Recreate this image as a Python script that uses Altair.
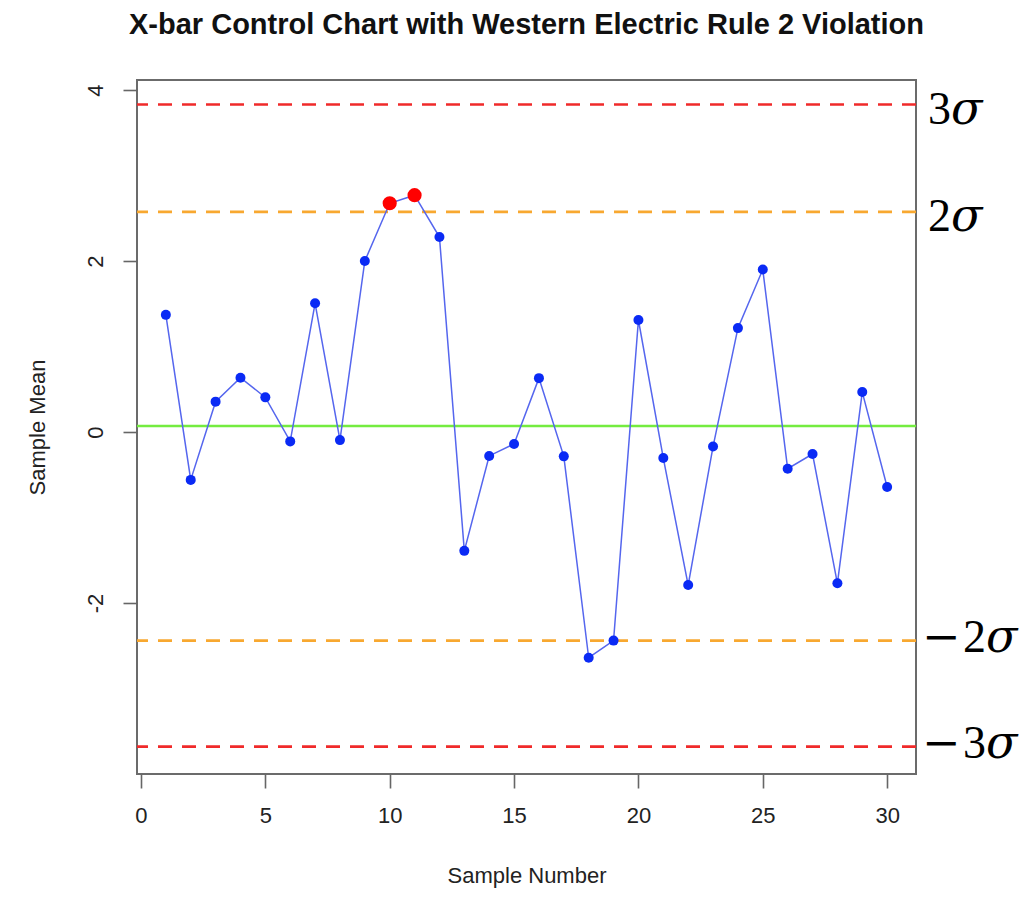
import altair as alt
import pandas as pd

# ---- data ----
sample = list(range(1, 31))
means = [1.37, -0.56, 0.355, 0.635, 0.405, -0.11, 1.505, -0.095, 2.0, 2.675,
         2.77, 2.28, -1.39, -0.28, -0.14, 0.63, -0.285, -2.64, -2.44, 1.31,
         -0.305, -1.79, -0.17, 1.215, 1.90, -0.43, -0.258, -1.77, 0.467, -0.644]
violations = [10, 11]

limit_values = [3.83, 2.575, 0.07, -2.44, -3.68]
limit_kinds = ["3s", "2s", "center", "2s", "3s"]

sigma_values = [3.83, 2.575, -2.44, -3.68]
sigma_signs = ["", "", "−", "−"]
sigma_digits = ["3", "2", "2", "3"]

x_ticks = [0, 5, 10, 15, 20, 25, 30]
y_ticks = [-2, 0, 2, 4]

W, H = 779, 694

df = pd.DataFrame({"Sample": sample, "Mean": means})
df["viol"] = df["Sample"].isin(violations)
lim = pd.DataFrame({"Mean": limit_values, "kind": limit_kinds})
sig = pd.DataFrame({"Mean": sigma_values, "sign": sigma_signs, "digit": sigma_digits})
sig["neg"] = sig["sign"] != ""

xs = alt.Scale(domain=[-0.16, 31.16], nice=False, zero=False)
ys = alt.Scale(domain=[-4.0, 4.117], nice=False, zero=False)

x_enc = alt.X("Sample:Q", scale=xs, title="Sample Number",
              axis=alt.Axis(values=x_ticks, titleX=W / 2, titleY=101,
                            titleBaseline="middle", titleAlign="center",
                            labelPadding=17, labelBaseline="top",
                            labelExpr="'' + datum.value"))
y_enc = alt.Y("Mean:Q", scale=ys, title="Sample Mean",
              axis=alt.Axis(values=y_ticks, labelAngle=270, labelAlign="center",
                            labelBaseline="alphabetic", labelPadding=21,
                            labelExpr="'' + datum.value",
                            titleAngle=270, titleX=-100, titleY=H / 2,
                            titleAlign="center", titleBaseline="middle"))
y_only = alt.Y("Mean:Q", scale=ys, title="Sample Mean")

color_scale = alt.Scale(domain=["3s", "2s", "center"],
                        range=["#f02a2a", "#f8a830", "#74ec40"])

dashed = alt.Chart(lim).transform_filter("datum.kind != 'center'").mark_rule(
    strokeWidth=2.6, strokeDash=[14, 10]).encode(
    y=y_only, color=alt.Color("kind:N", scale=color_scale, legend=None))
center = alt.Chart(lim).transform_filter("datum.kind == 'center'").mark_rule(
    strokeWidth=2.6).encode(
    y=y_only, color=alt.Color("kind:N", scale=color_scale, legend=None))

line = alt.Chart(df).mark_line(color="#5566ee", strokeWidth=1.5).encode(x=x_enc, y=y_enc)
pts = alt.Chart(df).mark_point(filled=True, shape="circle", size=100,
                               color="#0a2af5", opacity=1).encode(x=x_enc, y=y_enc)
red = alt.Chart(df).transform_filter("datum.viol").mark_point(
    filled=True, shape="circle", size=200, color="#ff0000", opacity=1).encode(x=x_enc, y=y_enc)

serif = "Liberation Serif"
FS = 46
pos = alt.Chart(sig).transform_filter("!datum.neg")
neg = alt.Chart(sig).transform_filter("datum.neg")

pos_digit = pos.mark_text(font=serif, fontSize=FS, align="left", baseline="alphabetic",
                          dy=19, color="black").encode(
    y=y_only, x=alt.value(W + 12), text="digit:N")
pos_sigma = pos.mark_text(font="DejaVu Serif", fontSize=FS, fontStyle="italic", align="left",
                          baseline="alphabetic", dy=19, color="black").encode(
    y=y_only, x=alt.value(W + 35), text=alt.value("σ"))
neg_minus = neg.mark_text(font="DejaVu Serif", fontSize=FS, align="left", baseline="alphabetic",
                          dy=11, color="black").encode(
    y=y_only, x=alt.value(W + 6), text="sign:N")
neg_digit = neg.mark_text(font=serif, fontSize=FS, align="left", baseline="alphabetic",
                          dy=11, color="black").encode(
    y=y_only, x=alt.value(W + 47), text="digit:N")
neg_sigma = neg.mark_text(font="DejaVu Serif", fontSize=FS, fontStyle="italic", align="left",
                          baseline="alphabetic", dy=11, color="black").encode(
    y=y_only, x=alt.value(W + 70), text=alt.value("σ"))

chart = alt.layer(
    dashed, center, line, pts, red,
    pos_digit, pos_sigma, neg_minus, neg_digit, neg_sigma
).properties(
    width=W, height=H,
    title=alt.TitleParams("X-bar Control Chart with Western Electric Rule 2 Violation",
                          fontSize=29, fontWeight="bold", font="Liberation Sans",
                          color="#111111", anchor="middle", offset=40),
    autosize=alt.AutoSizeParams(type="none"),
    padding={"left": 129, "top": 72, "right": 106, "bottom": 125},
).configure_view(
    stroke="#6b6b6b", strokeWidth=2
).configure_axis(
    domain=False, grid=False, tickColor="#666666", tickWidth=1.6, tickSize=14,
    labelFont="Liberation Sans", labelFontSize=22, labelColor="#222222",
    titleFont="Liberation Sans", titleFontSize=22, titleColor="#222222",
    titleFontWeight="normal"
)

chart.save("out.html", embed_options={"renderer": "svg", "actions": False})
